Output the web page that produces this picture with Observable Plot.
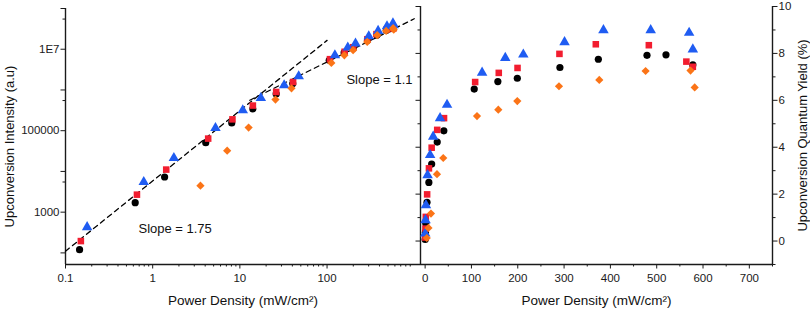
<!DOCTYPE html>
<html><head><meta charset="utf-8">
<script src="https://cdn.jsdelivr.net/npm/d3@7"></script>
<script src="https://cdn.jsdelivr.net/npm/@observablehq/plot@0.6"></script>
<style>
body{margin:0;background:#fff;}
#wrap{position:relative;width:810px;height:309px;font-family:"Liberation Sans",Arial,sans-serif;}
#wrap svg{position:absolute;top:0;overflow:visible;background:transparent;}
</style></head><body><div id="wrap"></div>
<script>
// ---- data: power density (mW/cm2), upconversion intensity (a.u), quantum yield (%)
const blackP  = [0.145, 0.63, 1.37, 4.06, 8.07, 14.1, 26.1, 40.4, 106, 157, 199, 291, 374, 479, 520, 578];
const blackI  = [120, 1710, 7300, 50900, 155000, 342000, 798000, 1440000, 5370000, 8220000, 10630000, 16580000, 22300000, 29200000, 31800000, 33400000];
const blackQY = [0.07, 0.38, 0.76, 1.65, 2.50, 3.28, 4.22, 4.70, 6.48, 6.80, 6.94, 7.40, 7.75, 7.92, 7.94, 7.51];

const redP  = [0.15, 0.66, 1.43, 4.33, 8.22, 14.1, 26.1, 40.8, 108, 159, 199.5, 290, 368.5, 483, 564, 578];
const redI  = [195, 2690, 11100, 64000, 190000, 414000, 893000, 1570000, 5700000, 8660000, 11200000, 17600000, 23500000, 30700000, 32800000, 32600000];
const redQY = [0.15, 0.53, 1.03, 1.99, 3.10, 3.98, 4.74, 5.24, 6.78, 7.17, 7.38, 7.98, 8.39, 8.35, 7.65, 7.43];

const blueP  = [0.177, 0.79, 1.75, 5.25, 10.8, 17.4, 32.2, 47.3, 123, 173, 212, 301, 385, 487, 570, 578];
const blueI  = [430, 5500, 21300, 116000, 317000, 637000, 1300000, 2170000, 7100000, 11000000, 13800000, 20900000, 28200000, 36700000, 43000000, 39000000];
const blueQY = [0.32, 0.89, 1.53, 2.81, 3.67, 4.45, 5.24, 5.81, 7.18, 7.81, 7.95, 8.48, 8.99, 8.99, 8.88, 8.17];

const orangeP  = [3.53, 7.15, 12.6, 25.6, 39.1, 112, 158, 199, 289, 376, 476, 573, 582];
const orangeI  = [4480, 32400, 119000, 581000, 1100000, 4600000, 7100000, 9500000, 15100000, 22100000, 28200000, 32900000, 30100000];
const orangeQY = [0.13, 0.56, 1.17, 2.85, 3.54, 5.33, 5.60, 5.97, 6.60, 6.87, 7.25, 7.27, 6.55];

// power-law fit lines (endpoints)
const fitLowP  = [0.1, 100];
const fitLowI  = [110, 16500000];
const fitHighP = [13, 1000];
const fitHighI = [560000, 56000000];

// annotations
const slopeText = ["Slope = 1.75", "Slope = 1.1"];
const slopeP    = [0.687, 166.6];
const slopeI    = [400, 1730000];

// axes
const leftXDomain = [0.1, 1180];
const leftYDomain = [51.9, 1e8];
const leftXMajor = [0.1, 1, 10, 100];
const leftXLabels = ["0.1", "1", "10", "100"];
const leftXMinor = [0.2,0.3,0.4,0.5,0.6,0.7,0.8,0.9,2,3,4,5,6,7,8,9,20,30,40,50,60,70,80,90,200,300,400,500,600,700,800,900];
const leftYMajor = [100, 1000, 10000, 100000, 1000000, 10000000, 100000000];
const leftYLabelVals = [1000, 100000, 10000000];
const leftYLabels = ["1000", "100000", "1E7"];
const leftYMinor = [5500, 550000, 55000000];

const rightXDomain = [-10, 750];
const rightYDomain = [-1, 10];
const rightXMajor = [0, 100, 200, 300, 400, 500, 600, 700];
const rightXMinor = [50, 150, 250, 350, 450, 550, 650, 750];
const rightYMajor = [0, 2, 4, 6, 8, 10];
const rightYMinor = [-1, 1, 3, 5, 7, 9];

const xTitle = "Power Density (mW/cm²)";
const leftYTitle = "Upconversion Intensity (a.u)";
const rightYTitle = "Upconversion Quantum Yield (%)";

const series = [
  {name: "black",  P: blackP,  I: blackI,  Q: blackQY,  symbol: "circle",   color: "#000000", r: 3.6},
  {name: "red",    P: redP,    I: redI,    Q: redQY,    symbol: "square",   color: "#f21d2f", r: 3.7},
  {name: "blue",   P: blueP,   I: blueI,   Q: blueQY,   symbol: "triangle", color: "#1f5cf2", r: 3.9},
  {name: "orange", P: orangeP, I: orangeI, Q: orangeQY, symbol: "diamond2", color: "#fb7417", r: 3.7}
];
const rows = s => s.P.map((p, i) => ({p, i: s.I[i], q: s.Q[i]}));
const fitRows = (P, I) => P.map((p, k) => ({p, i: I[k]}));

const font = "Liberation Sans, Arial, sans-serif";
const axisColor = "#1a1a1a";
const baseStyle = {background: "transparent", fontFamily: font, fontSize: "11.5px", color: axisColor};

const labelMapX = new Map(leftXMajor.map((v, k) => [v, leftXLabels[k]]));
const labelMapY = new Map(leftYLabelVals.map((v, k) => [v, leftYLabels[k]]));

const left = Plot.plot({
  width: 420, height: 309,
  marginLeft: 65, marginRight: 0, marginTop: 8, marginBottom: 45,
  style: baseStyle,
  x: {type: "log", domain: leftXDomain},
  y: {type: "log", domain: leftYDomain},
  marks: [
    Plot.axisX({ticks: leftXMajor, tickSize: 4.5, tickPadding: 5, tickFormat: d => labelMapX.get(d) ?? "", label: null}),
    Plot.axisX({ticks: leftXMinor, tickSize: 2.5, tickFormat: () => "", label: null}),
    Plot.axisY({ticks: leftYMajor, tickSize: 4.5, tickPadding: 1.5, tickFormat: d => labelMapY.get(d) ?? "", label: null}),
    Plot.axisY({ticks: leftYMinor, tickSize: 2.5, tickFormat: () => "", label: null}),
    Plot.ruleX([leftXDomain[0]], {stroke: axisColor, strokeWidth: 1.4}),
    Plot.ruleY([leftYDomain[0]], {stroke: axisColor, strokeWidth: 1.4}),
    Plot.line(fitRows(fitLowP, fitLowI), {x: "p", y: "i", stroke: "#000", strokeWidth: 1.3, strokeDasharray: "5,4"}),
    Plot.line(fitRows(fitHighP, fitHighI), {x: "p", y: "i", stroke: "#000", strokeWidth: 1.3, strokeDasharray: "5,4"}),
    ...series.map(s => Plot.dot(rows(s), {x: "p", y: "i", symbol: s.symbol, fill: s.color, stroke: "none", r: s.r})),
    Plot.text(slopeText, {x: (d, k) => slopeP[k], y: (d, k) => slopeI[k], text: d => d, textAnchor: "start", lineAnchor: "middle", fontSize: 13, fill: "#111"}),
    Plot.text([xTitle], {frameAnchor: "bottom", dy: 36, textAnchor: "middle", lineAnchor: "middle", fontSize: 13.5, fill: "#111"}),
    Plot.text([leftYTitle], {frameAnchor: "left", dx: -56, dy: 10, rotate: -90, textAnchor: "middle", lineAnchor: "middle", fontSize: 13, fill: "#111"})
  ]
});

const right = Plot.plot({
  width: 410, height: 309,
  marginLeft: 20, marginRight: 38, marginTop: 6, marginBottom: 45,
  style: baseStyle,
  x: {domain: rightXDomain},
  y: {domain: rightYDomain},
  marks: [
    Plot.axisX({ticks: rightXMajor, tickSize: 4.5, tickPadding: 5, tickFormat: d => String(d), label: null}),
    Plot.axisX({ticks: rightXMinor, tickSize: 2.5, tickFormat: () => "", label: null}),
    Plot.axisY({anchor: "left", ticks: rightYMajor, tickSize: 4.5, tickFormat: () => "", label: null}),
    Plot.axisY({anchor: "left", ticks: rightYMinor, tickSize: 2.5, tickFormat: () => "", label: null}),
    Plot.axisY({anchor: "right", ticks: rightYMajor, tickSize: 4.5, tickPadding: 1.5, tickFormat: d => String(d), label: null}),
    Plot.axisY({anchor: "right", ticks: rightYMinor, tickSize: 2.5, tickFormat: () => "", label: null}),
    Plot.ruleX([rightXDomain[0]], {stroke: axisColor, strokeWidth: 1.4}),
    Plot.ruleX([rightXDomain[1]], {stroke: axisColor, strokeWidth: 1.4}),
    Plot.ruleY([rightYDomain[0]], {stroke: axisColor, strokeWidth: 1.4}),
    ...series.map(s => Plot.dot(rows(s), {x: "p", y: "q", symbol: s.symbol, fill: s.color, stroke: "none", r: s.r})),
    Plot.text([xTitle], {frameAnchor: "bottom", dy: 36, textAnchor: "middle", lineAnchor: "middle", fontSize: 13.5, fill: "#111"}),
    Plot.text([rightYTitle], {frameAnchor: "right", dx: 30, rotate: -90, textAnchor: "middle", lineAnchor: "middle", fontSize: 13, fill: "#111"})
  ]
});

const wrap = document.getElementById("wrap");
right.style.left = "400px";
left.style.left = "0px";
wrap.appendChild(right);
wrap.appendChild(left);
</script>
</body></html>
